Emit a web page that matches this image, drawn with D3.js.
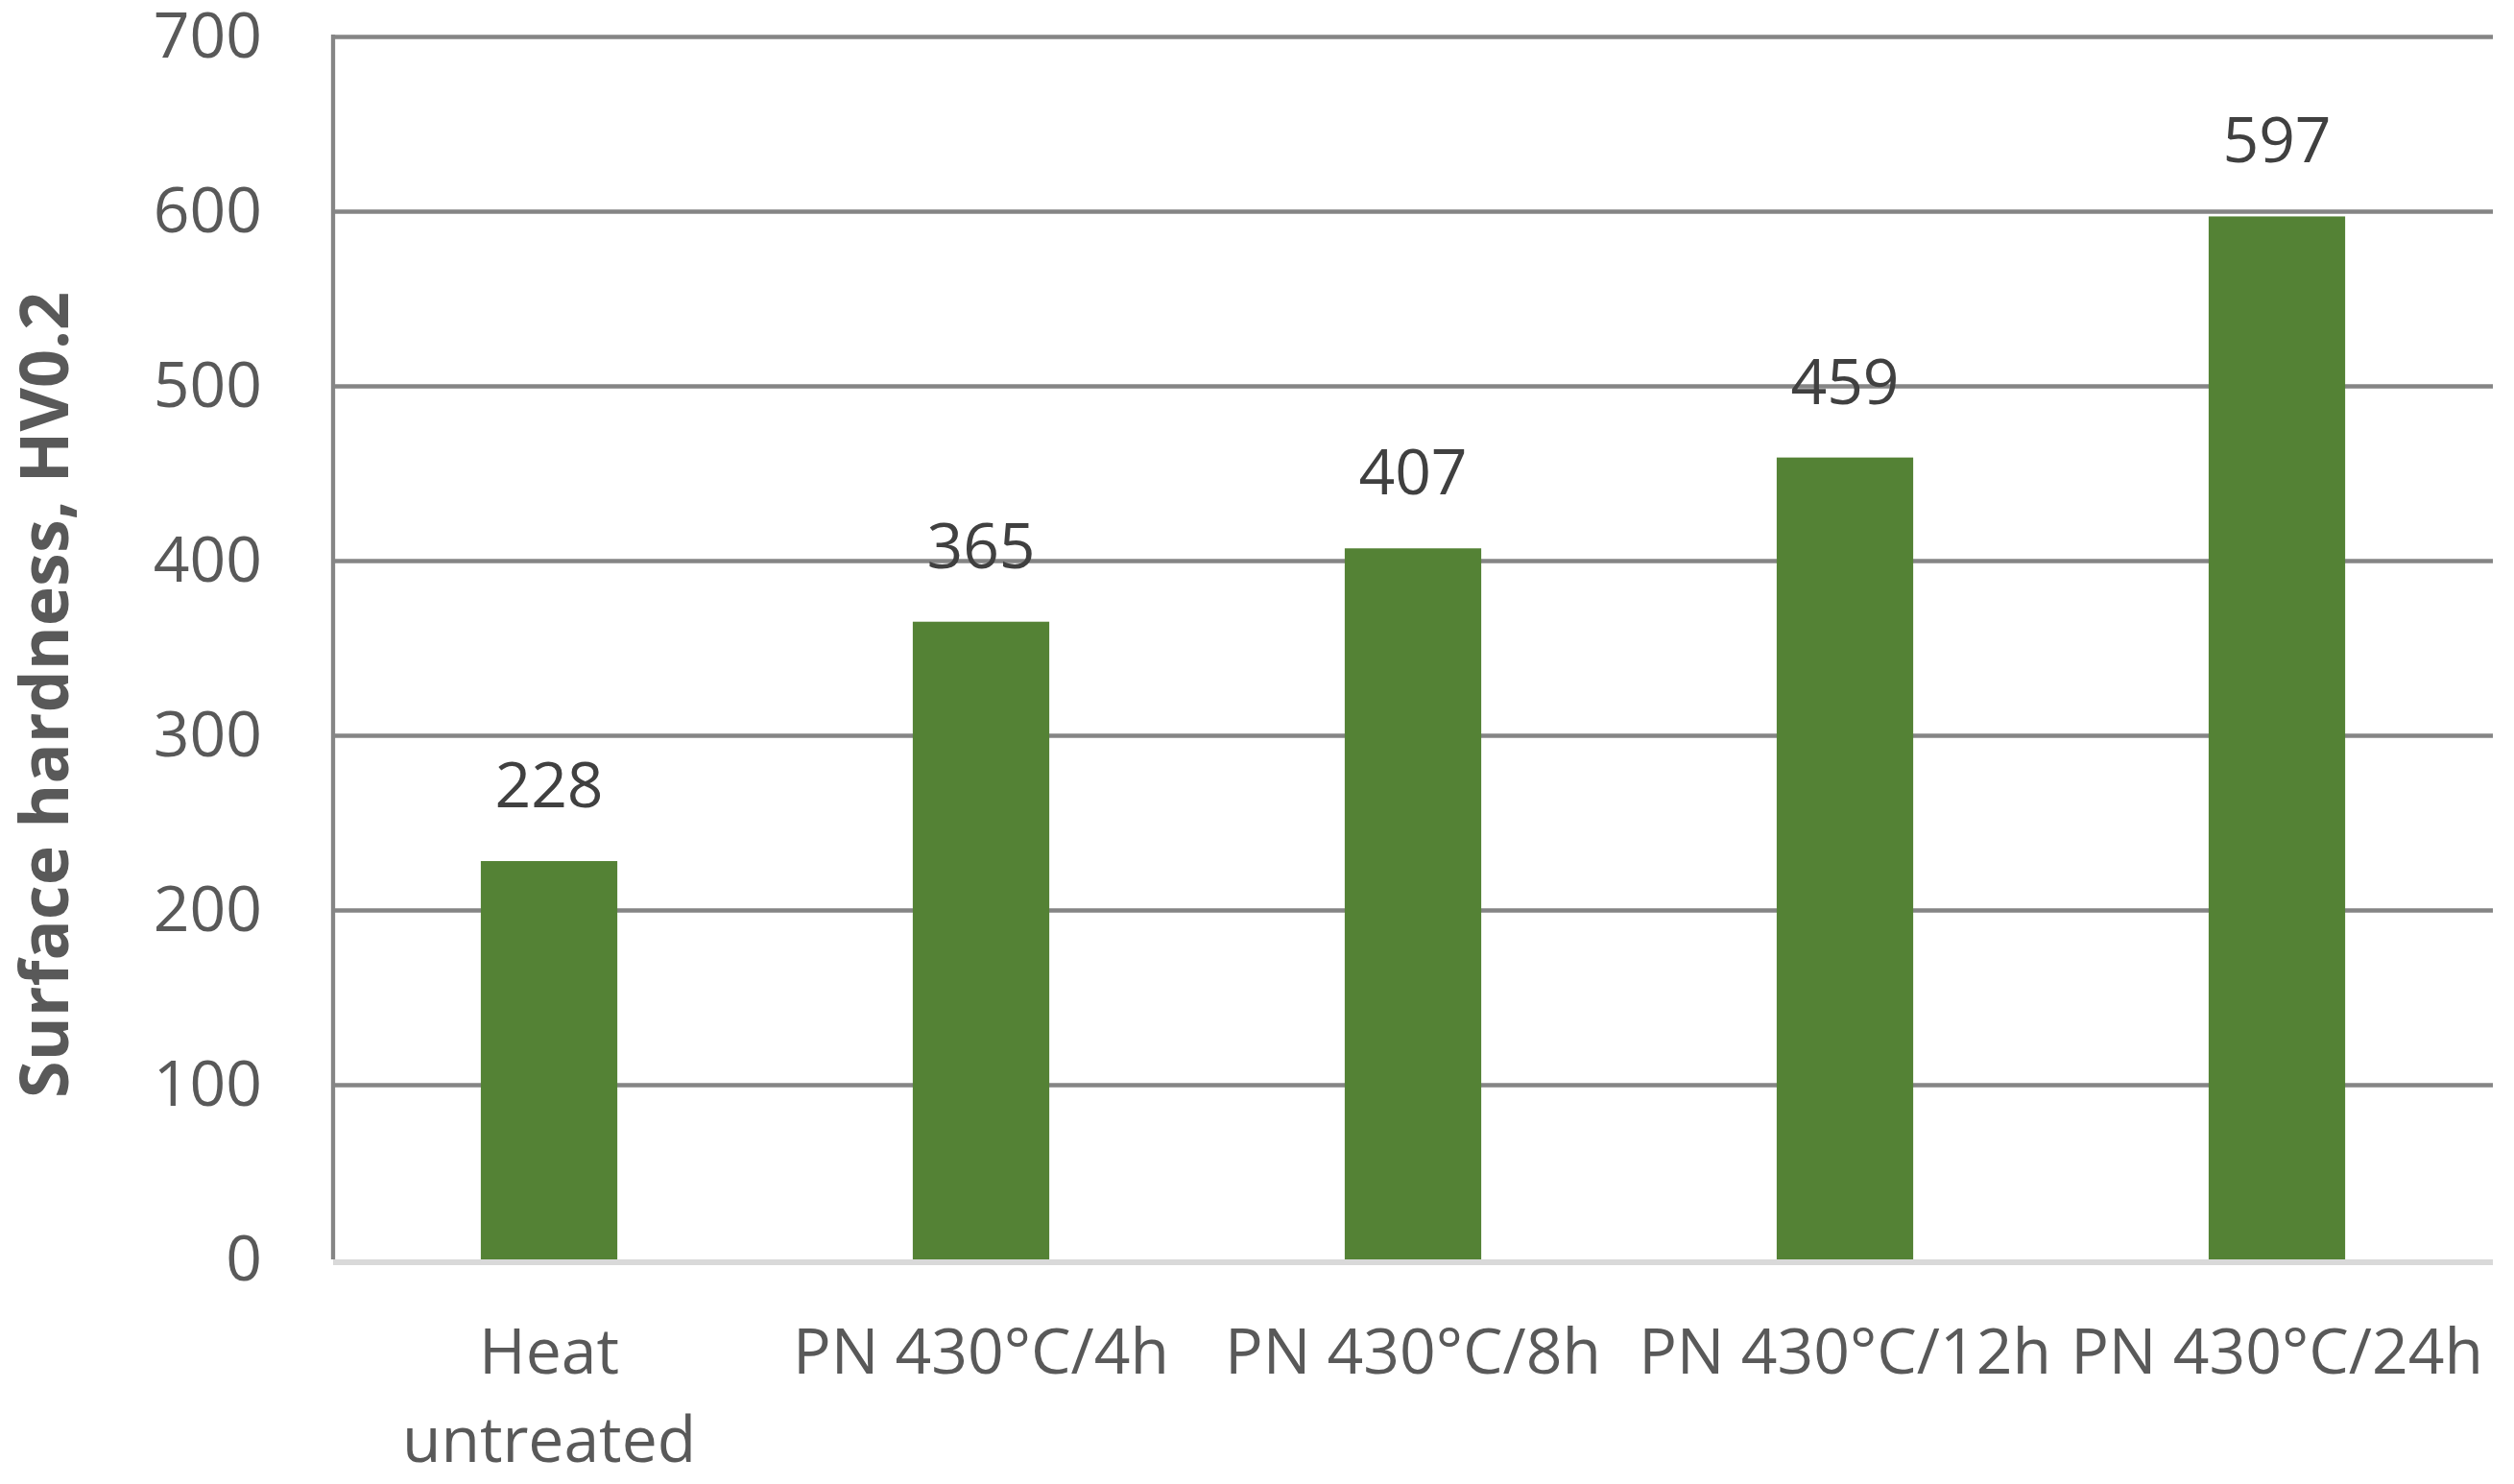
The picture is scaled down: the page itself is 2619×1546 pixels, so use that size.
<!DOCTYPE html>
<html>
<head>
<meta charset="utf-8">
<script src="https://cdn.jsdelivr.net/npm/d3@7"></script>
<style>
  body { margin: 0; background: #fff; }
  text { font-family: "Open Sans", sans-serif; }
</style>
</head>
<body>
<div id="my_dataviz"></div>
<script>
// data
var categories = ["Heat untreated", "PN 430°C/4h", "PN 430°C/8h", "PN 430°C/12h", "PN 430°C/24h"];
var hardness = [228, 365, 407, 459, 597];
var yTicks = [0, 100, 200, 300, 400, 500, 600, 700];
var yTitle = "Surface hardness, HV0.2";

// set the dimensions and margins of the graph
var W = 2619, H = 1546;
var margin = {top: 38, right: 22, bottom: 234, left: 347},
    width = W - margin.left - margin.right,
    height = H - margin.top - margin.bottom;

var svg = d3.select("#my_dataviz")
  .append("svg")
    .attr("width", W)
    .attr("height", H)
  .append("g")
    .attr("transform", "translate(" + margin.left + "," + margin.top + ")");

// scales
var x = d3.scaleBand()
  .domain(categories)
  .range([0, width])
  .paddingInner(0.684)
  .paddingOuter(0.342);

var y = d3.scaleLinear()
  .domain([0, 700])
  .range([height, 0]);

// gridlines
var grid = svg.append("g")
  .call(d3.axisLeft(y).tickValues(yTicks.filter(function(d) { return d > 0; })).tickSize(-width).tickFormat(""));
grid.select(".domain").remove();
grid.selectAll("line").attr("stroke", "#858585").attr("stroke-width", 4.3);

// y axis line
svg.append("line")
  .attr("x1", 0).attr("x2", 0)
  .attr("y1", y(700) - 2).attr("y2", y(0))
  .attr("stroke", "#858585")
  .attr("stroke-width", 4.3);

// y tick labels
var yAxis = svg.append("g")
  .call(d3.axisLeft(y).tickValues(yTicks).tickSize(0).tickPadding(74));
yAxis.select(".domain").remove();
yAxis.selectAll("text")
  .attr("font-size", 66)
  .attr("font-family", "Open Sans")
  .attr("fill", "#595959");

// bars
svg.selectAll("rect.bar")
  .data(hardness)
  .enter().append("rect")
    .attr("class", "bar")
    .attr("x", function(d, i) { return x(categories[i]); })
    .attr("width", x.bandwidth())
    .attr("y", function(d) { return y(d); })
    .attr("height", function(d) { return y(0) - y(d); })
    .attr("fill", "#548235");

// baseline
svg.append("line")
  .attr("x1", 0).attr("x2", width)
  .attr("y1", y(0) + 3).attr("y2", y(0) + 3)
  .attr("stroke", "#d9d9d9")
  .attr("stroke-width", 6);

// value labels
svg.selectAll("text.val")
  .data(hardness)
  .enter().append("text")
    .attr("class", "val")
    .attr("x", function(d, i) { return x(categories[i]) + x.bandwidth() / 2; })
    .attr("y", function(d) { return y(d) - 56; })
    .attr("text-anchor", "middle")
    .attr("font-size", 66)
    .attr("fill", "#404040")
    .text(function(d) { return d; });

// category labels (first one wraps to two lines)
var xLabels = svg.append("g");
categories.forEach(function(c, i) {
  var lines = i === 0 ? ["Heat", "untreated"] : [c];
  var t = xLabels.append("text")
    .attr("x", x(c) + x.bandwidth() / 2)
    .attr("y", y(0) + 119)
    .attr("text-anchor", "middle")
    .attr("font-size", 66)
    .attr("fill", "#595959");
  lines.forEach(function(l, j) {
    t.append("tspan")
      .attr("x", x(c) + x.bandwidth() / 2)
      .attr("dy", j === 0 ? 0 : 92)
      .text(l);
  });
});

// y axis title
svg.append("text")
  .attr("transform", "translate(" + (47 - margin.left + 24) + "," + (724 - margin.top) + ") rotate(-90)")
  .attr("text-anchor", "middle")
  .attr("font-size", 70)
  .attr("font-weight", "bold")
  .attr("fill", "#595959")
  .text(yTitle);
</script>
</body>
</html>
